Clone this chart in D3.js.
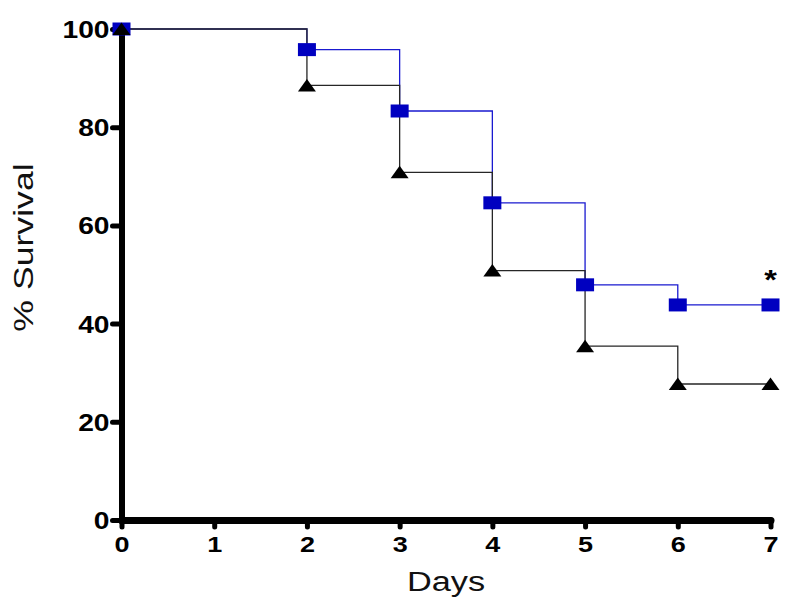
<!DOCTYPE html>
<html>
<head>
<meta charset="utf-8">
<script src="https://cdn.jsdelivr.net/npm/d3@7"></script>
<style>
  html, body { margin: 0; padding: 0; background: #fff; }
  svg { display: block; }
</style>
</head>
<body>
<script>
// ---- Data ----
const days = [0, 2, 3, 4, 5, 6, 7];
const blueSurvival = [100, 95.8, 83.3, 64.6, 47.9, 43.8, 43.8];
const blackSurvival = [100, 88.5, 70.8, 50.8, 35.4, 27.7, 27.7];
const xTicks = [0, 1, 2, 3, 4, 5, 6, 7];
const yTicks = [0, 20, 40, 60, 80, 100];
const xTitle = "Days";
const yTitle = "% Survival";
const significanceMark = "*";
const significanceDay = 7;
const significanceValue = 49.6;

const W = 800, H = 613;
const svg = d3.select("body").append("svg").attr("width", W).attr("height", H);

const x = d3.scaleLinear().domain([0, 7]).range([121.5, 770.5]);
const y = d3.scaleLinear().domain([0, 100]).range([520, 29]);

const FONT = "'Liberation Sans', Arial, Helvetica, sans-serif";

const blue = days.map((d, i) => ({ d, v: blueSurvival[i] }));
const black = days.map((d, i) => ({ d, v: blackSurvival[i] }));

const line = d3.line().x(p => x(p.d)).y(p => y(p.v)).curve(d3.curveStepAfter);

// step lines
svg.append("path").datum(blue).attr("d", line)
  .attr("fill", "none").attr("stroke", "#1a1ad0").attr("stroke-width", 1.3);
svg.append("path").datum(black).attr("d", line)
  .attr("fill", "none").attr("stroke", "#262626").attr("stroke-width", 1.3);

// axes
const yAxis = d3.axisLeft(y).tickValues(yTicks).tickSize(9).tickSizeOuter(0).tickFormat("");
const gy = svg.append("g").attr("transform", `translate(${x(0)},0)`).call(yAxis);
gy.select(".domain").attr("stroke", "#000").attr("stroke-width", 6).attr("stroke-linecap", "square");
gy.selectAll(".tick line").attr("stroke", "#000").attr("stroke-width", 5).attr("stroke-linecap", "round");
gy.selectAll(".tick").append("text")
  .attr("transform", "translate(-12,0) scale(1.2,1)")
  .attr("text-anchor", "end").attr("dy", "0.36em")
  .style("font-family", FONT).style("font-weight", "bold").style("font-size", "23.5px")
  .attr("fill", "#000").text(d => d);

const xAxis = d3.axisBottom(x).tickValues(xTicks).tickSize(7).tickSizeOuter(0).tickFormat("");
const gx = svg.append("g").attr("transform", `translate(0,${y(0)})`).call(xAxis);
gx.select(".domain").attr("stroke", "#000").attr("stroke-width", 7).attr("stroke-linecap", "round");
gx.selectAll(".tick line").attr("stroke", "#000").attr("stroke-width", 5).attr("stroke-linecap", "round");
gx.selectAll(".tick").append("text")
  .attr("transform", "translate(0,31.5) scale(1.2,1)")
  .attr("text-anchor", "middle")
  .style("font-family", FONT).style("font-weight", "bold").style("font-size", "22.5px")
  .attr("fill", "#000").text(d => d);

// markers
svg.append("g").selectAll("rect").data(blue).join("rect")
  .attr("x", p => x(p.d) - 9).attr("y", p => y(p.v) - 6.5)
  .attr("width", 18).attr("height", 13).attr("fill", "#0000c0");
const tri = "M0,-6.5L9,6L-9,6Z";
svg.append("g").selectAll("path").data(black).join("path")
  .attr("d", tri).attr("transform", p => `translate(${x(p.d)},${y(p.v)})`)
  .attr("fill", "#000");

// significance mark
svg.append("text")
  .attr("transform", `translate(${x(significanceDay)},${y(significanceValue) + 13}) scale(1.2,1)`)
  .attr("text-anchor", "middle")
  .style("font-family", FONT).style("font-weight", "bold").style("font-size", "27px")
  .attr("fill", "#000").text(significanceMark);

// titles
svg.append("text")
  .attr("transform", "translate(446,591) scale(1.27,1)")
  .attr("text-anchor", "middle")
  .style("font-family", FONT).style("font-size", "27px")
  .attr("fill", "#111").text(xTitle);
svg.append("text")
  .attr("transform", "translate(33,247.5) rotate(-90) scale(1.32,1)")
  .attr("text-anchor", "middle")
  .style("font-family", FONT).style("font-size", "27px")
  .attr("fill", "#111").text(yTitle);
</script>
</body>
</html>
